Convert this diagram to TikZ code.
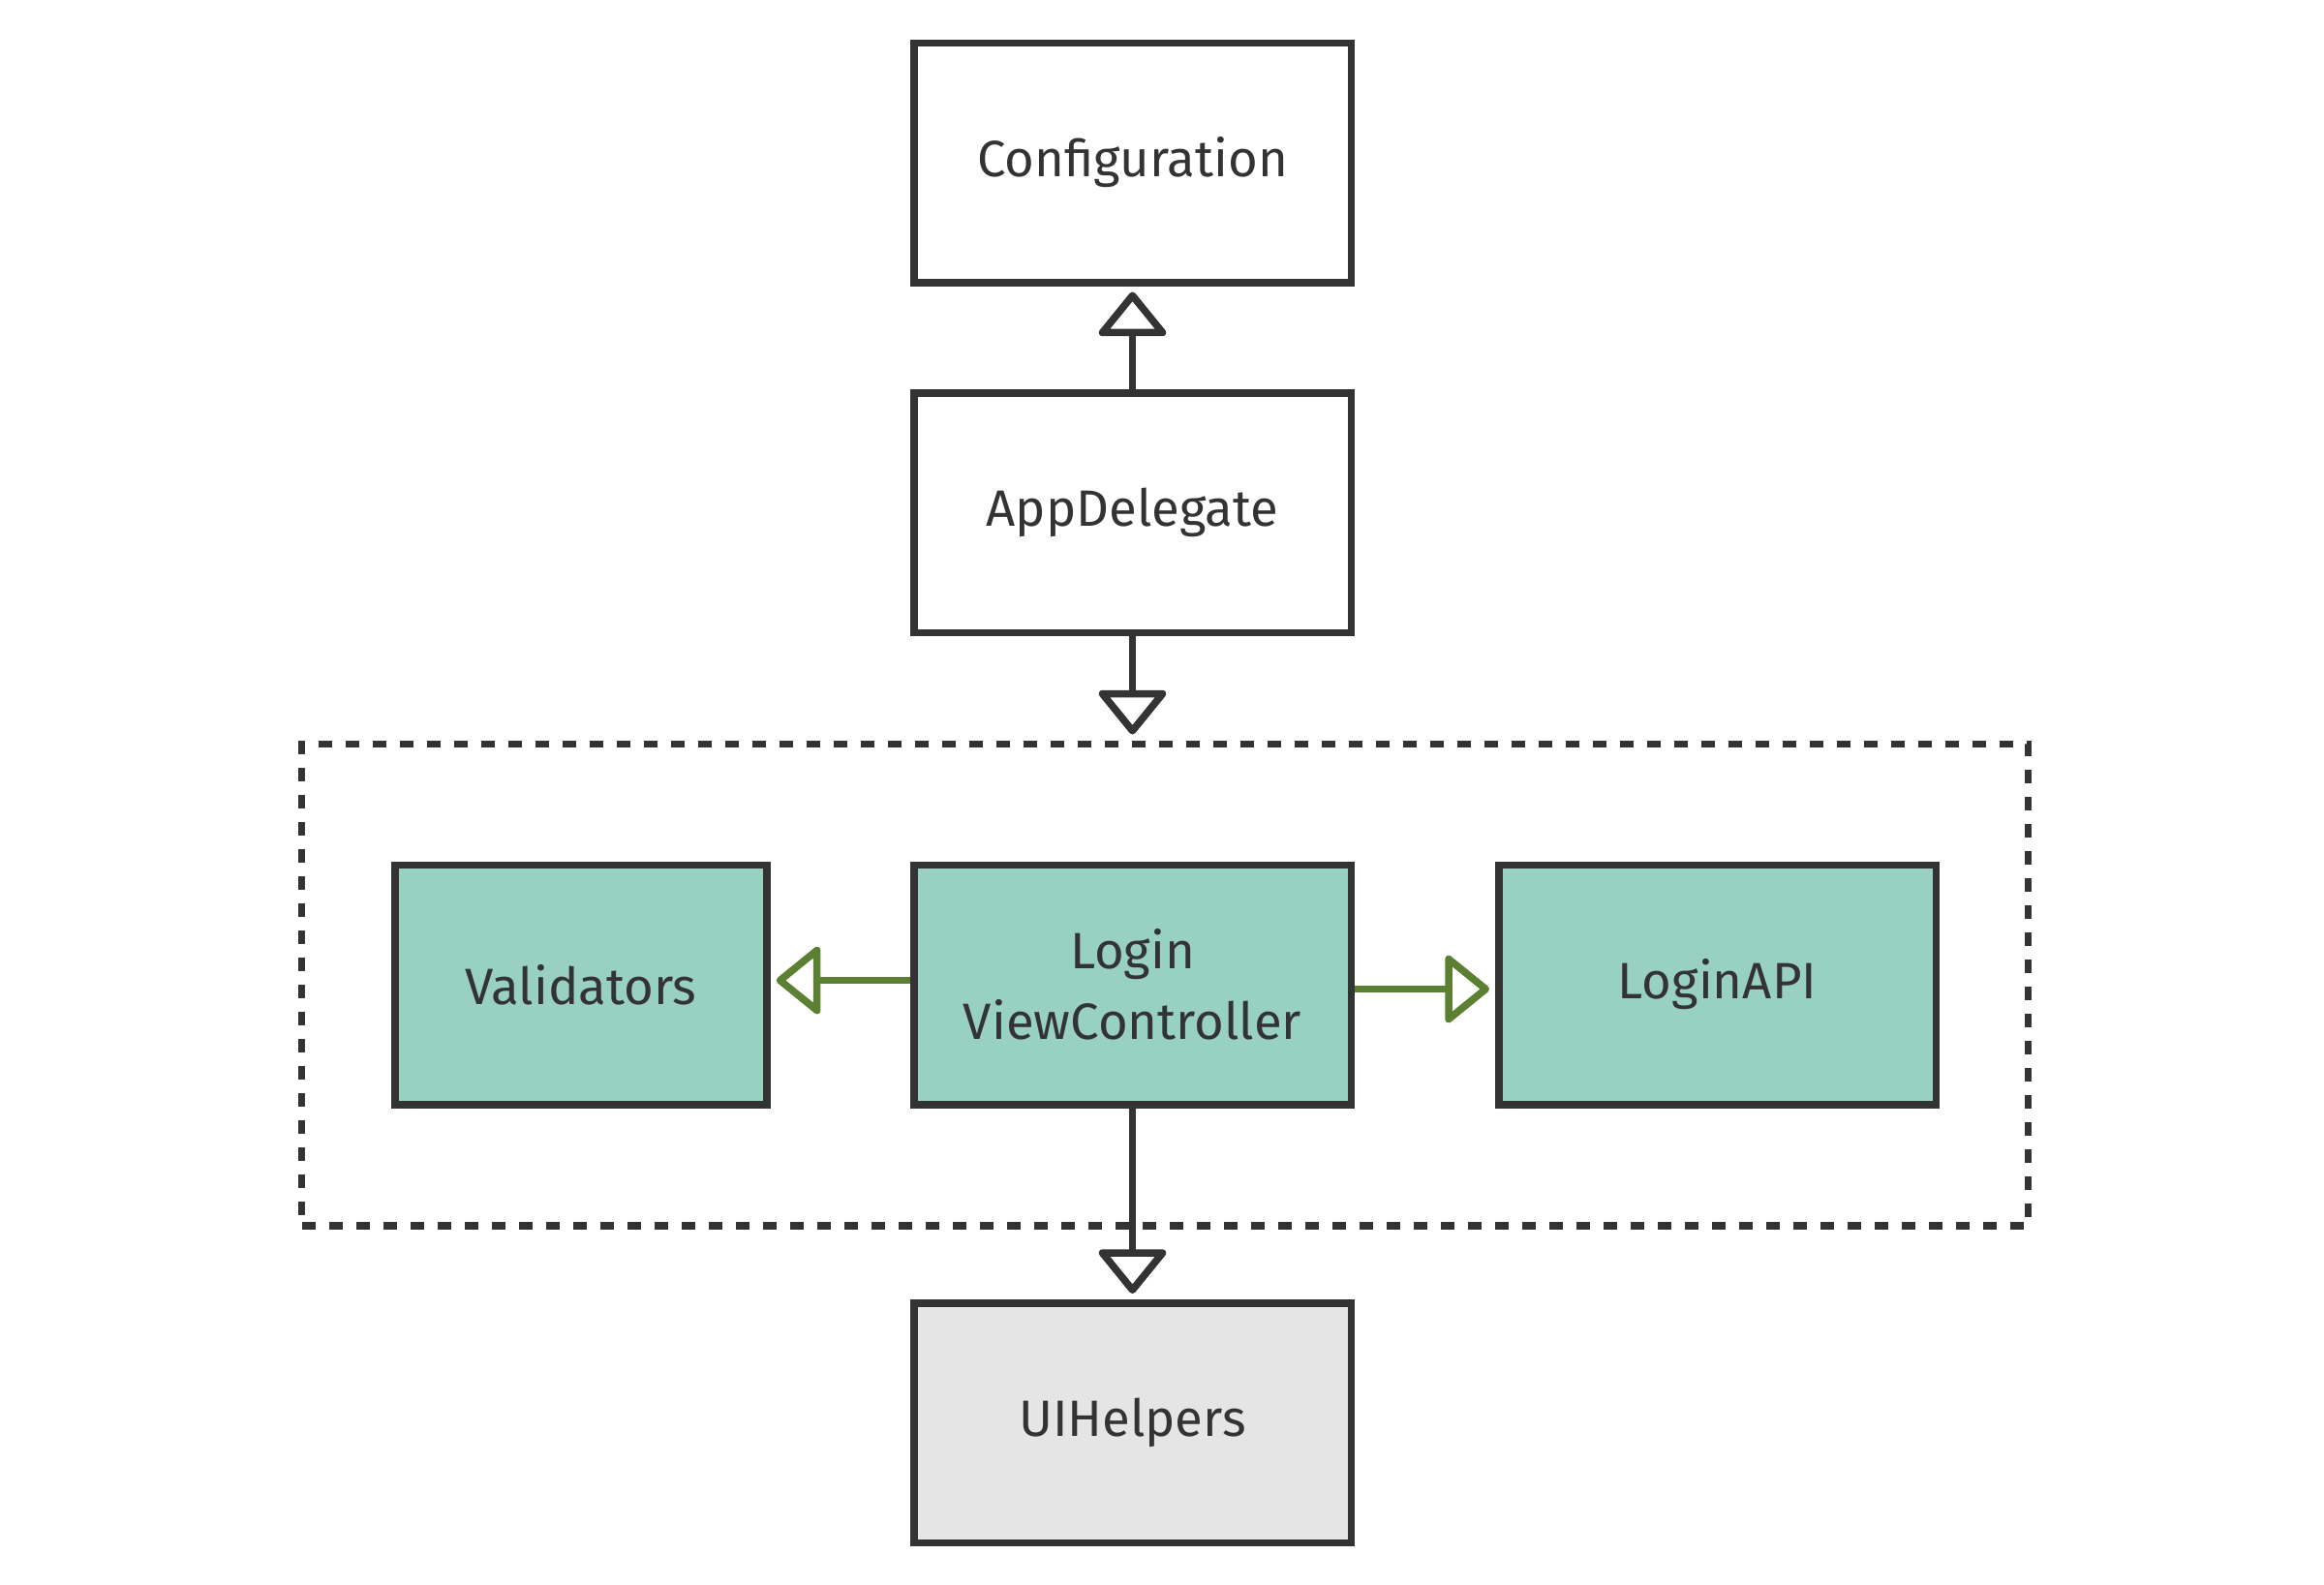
\documentclass[tikz,border=0pt]{standalone}
\usepackage{fontspec}
\setmainfont{Fira Sans}
\usetikzlibrary{arrows.meta}
\definecolor{dark}{HTML}{333333}
\definecolor{mint}{HTML}{98D0C1}
\definecolor{helpergray}{HTML}{E5E5E5}
\definecolor{leaf}{HTML}{5B8032}
\begin{document}
\begin{tikzpicture}[
    box/.style={draw=dark, line width=0.075cm, minimum width=4.515cm, minimum height=2.475cm,
        inner sep=0pt, align=center, text=dark, font=\fontsize{15}{20.8}\selectfont},
    dep/.style={draw=dark, line width=0.075cm, shorten >=0.06cm,
        -{Triangle[length=0.48cm, width=0.76cm, fill=white, round]}},
    uses/.style={dep, draw=leaf}]
    \useasboundingbox (0,0) rectangle (24,-16.36);
    % group frame
    \node[draw=dark, line width=0.075cm, dash pattern=on 0.14cm off 0.14cm,
        minimum width=17.83cm, minimum height=4.975cm, inner sep=0pt] (login) at (12.03,-10.17) {};
    \node[box] (cfg) at (11.695,-1.68) {Configuration};
    \node[box] (app) at (11.695,-5.295) {AppDelegate};
    \node[box, fill=mint, minimum width=3.84cm] (val) at (6.0,-10.17) {Validators};
    \node[box, fill=mint] (vc) at (11.695,-10.17) {Login\\ViewController};
    \node[box, fill=mint] (api) at (17.735,-10.17) {LoginAPI};
    \node[box, fill=helpergray] (ui) at (11.695,-14.695) {UIHelpers};
    \draw[dep] (app) -- (cfg);
    \draw[dep] (app.south) -- (app.south |- login.north);
    \draw[uses] ([yshift=0.045cm]vc.west) -- ([yshift=0.045cm]val.east);
    \draw[uses] ([yshift=-0.045cm]vc.east) -- ([yshift=-0.045cm]api.west);
    \draw[dep] (vc) -- (ui);
\end{tikzpicture}
\end{document}
